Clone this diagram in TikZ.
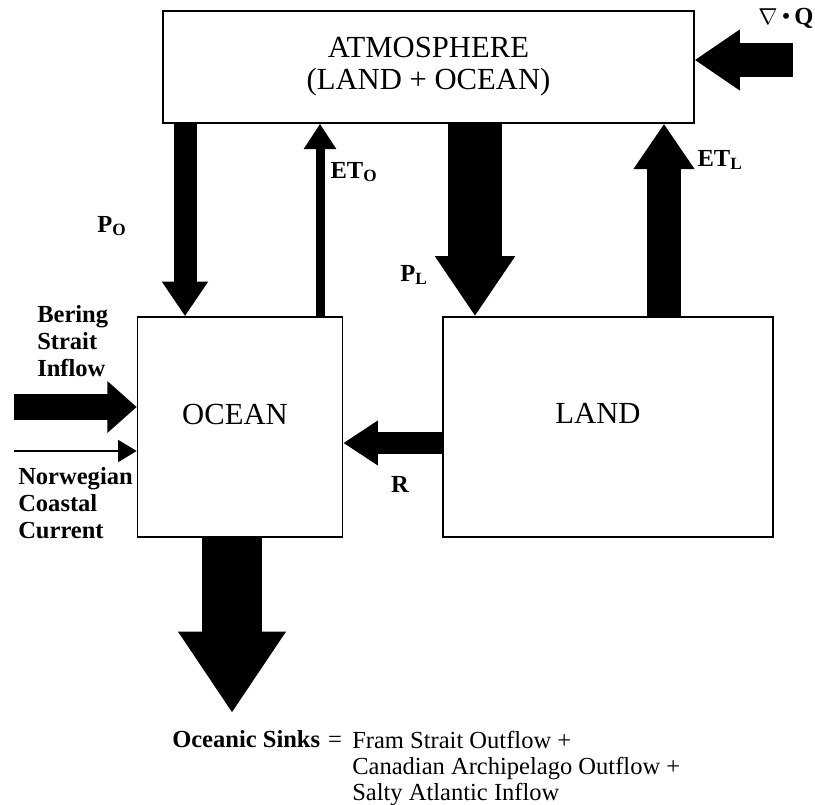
\documentclass[tikz,border=0pt]{standalone}
\usepackage{fontspec}
\setmainfont{Liberation Serif}
\usetikzlibrary{arrows.meta}

\tikzset{
  box/.style={draw,line width=1.2pt,inner sep=0pt},
  fat/.style n args={3}{line width=#1pt,-{Triangle[length=#3pt,width=#2pt]}},
  flux/.style={font=\fontsize{18.4}{20.25}\selectfont\bfseries,inner sep=0pt},
  sinktxt/.style={font=\fontsize{18.4}{19.5}\selectfont,inner sep=0pt},
}

\begin{document}
\begin{tikzpicture}[x=0.75pt,y=-0.75pt]
  \useasboundingbox (0,0) rectangle (815,805);
  % reservoirs
  \node[box,minimum width=398pt,minimum height=84pt,align=center,
        font=\fontsize{23}{24}\selectfont] (atm) at (428.5,67) {ATMOSPHERE\\(LAND + OCEAN)};
  \node[box,minimum width=153.75pt,minimum height=165pt] (ocean) at (240,427) {};
  \node[box,minimum width=247.5pt,minimum height=165pt] (land) at (608,427) {};
  \node[font=\fontsize{23}{24}\selectfont] (oceantxt) at (235,415) {OCEAN};
  \node[font=\fontsize{23}{24}\selectfont] (landtxt) at (598,413) {LAND};
  % free ends
  \coordinate (qin) at (793,60);
  \coordinate (bsi) at (14,407);
  \coordinate (ncc) at (14,451);
  \coordinate (sink) at (232,713);
  % fluxes
  \draw[fat={17.25}{33}{26}] (185,0 |- atm.south) -- (185,0 |- ocean.north);
  \draw[fat={6.75}{23.25}{19}] (320,0 |- ocean.north) -- (320,0 |- atm.south);
  \draw[fat={40.5}{57}{45}] (475,0 |- atm.south) -- (475,0 |- land.north);
  \draw[fat={26}{43.5}{34}] (664,0 |- land.north) -- (664,0 |- atm.south);
  \draw[fat={26}{43.5}{34}] (qin) -- (qin -| atm.east);
  \draw[fat={20}{37.5}{22}] (bsi) -- (bsi -| ocean.west);
  \draw[line width=1.5pt,-{Triangle[length=14pt,width=16.5pt]}] (ncc) -- (ncc -| ocean.west);
  \draw[fat={16}{32}{26}] (land.west |- 0,443) -- (ocean.east |- 0,443);
  \draw[fat={45}{76.5}{61}] (ocean.south -| sink) -- (sink);
  % labels
  \node[flux] (po) at (112,226) {P\textsubscript{O}};
  \node[flux] (eto) at (354,172) {ET\textsubscript{O}};
  \node[flux] (pl) at (414,275) {P\textsubscript{L}};
  \node[flux] (etl) at (720,160) {ET\textsubscript{L}};
  \node[flux] (r) at (400,484) {R};
  \node[flux,anchor=base] (divq) at (786,25) {\mdseries$\nabla$\,\textbullet\,\bfseries Q};
  \node[flux,align=left,anchor=base west] (bering) at (37,377) {Bering\\Strait\\Inflow};
  \node[flux,align=left,anchor=base west] (norw) at (18,539) {Norwegian\\Coastal\\Current};
  \node[flux,anchor=base west] (sinks) at (172,748) {Oceanic Sinks};
  \node[sinktxt,anchor=base] (eq) at (335,748) {=};
  \node[sinktxt,align=left,anchor=base west] (terms) at (352,800)
    {Fram Strait Outflow +\\Canadian Archipelago Outflow +\\Salty Atlantic Inflow};
\end{tikzpicture}
\end{document}
